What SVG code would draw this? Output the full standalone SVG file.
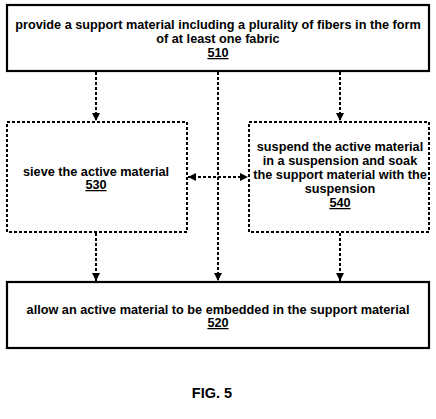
<svg xmlns="http://www.w3.org/2000/svg" width="436" height="419" viewBox="0 0 436 419">
<style>
.box{fill:#fff;stroke:#000;stroke-width:2.2}
.dbox{fill:#fff;stroke:#000;stroke-width:2;stroke-dasharray:3,2}
.t{font-family:"Liberation Sans",Arial,sans-serif;font-weight:bold;font-size:12.7px;text-anchor:middle;fill:#000}
.u{text-decoration:underline}
.c{stroke:#000;stroke-width:2;stroke-dasharray:3,2;fill:none}
</style>
<defs>
<marker id="ah" viewBox="0 0 8 8" refX="8" refY="4" markerWidth="8" markerHeight="8" markerUnits="userSpaceOnUse" orient="auto-start-reverse">
<path d="M0,0 L8,4 L0,8 Z" fill="#000"/>
</marker>
</defs>
<rect width="436" height="419" fill="#fff"/>
<g id="connectors">
<line class="c" x1="96" y1="72" x2="96" y2="121" marker-end="url(#ah)"/>
<line class="c" x1="340" y1="72" x2="340" y2="121" marker-end="url(#ah)"/>
<line class="c" x1="218" y1="72" x2="218" y2="281" marker-end="url(#ah)"/>
<line class="c" x1="96" y1="233" x2="96" y2="281" marker-end="url(#ah)"/>
<line class="c" x1="340" y1="233" x2="340" y2="281" marker-end="url(#ah)"/>
<line class="c" x1="188" y1="177" x2="248" y2="177" marker-start="url(#ah)" marker-end="url(#ah)"/>
</g>
<g id="n510">
<rect class="box" x="7" y="5" width="422" height="66"/>
<text class="t" x="218" y="29">provide a support material including a plurality of fibers in the form</text>
<text class="t" x="218" y="43">of at least one fabric</text>
<text class="t u" x="218" y="57">510</text>
</g>
<g id="n530">
<rect class="dbox" x="7" y="122" width="180" height="110"/>
<text class="t" x="96" y="176">sieve the active material</text>
<text class="t u" x="96" y="189">530</text>
</g>
<g id="n540">
<rect class="dbox" x="249" y="122" width="180" height="110"/>
<text class="t" x="340" y="151">suspend the active material</text>
<text class="t" x="340" y="165">in a suspension and soak</text>
<text class="t" x="340" y="179">the support material with the</text>
<text class="t" x="340" y="193">suspension</text>
<text class="t u" x="340" y="207">540</text>
</g>
<g id="n520">
<rect class="box" x="7" y="282" width="422" height="66"/>
<text class="t" x="218" y="314">allow an active material to be embedded in the support material</text>
<text class="t u" x="218" y="327">520</text>
</g>
<text class="t" x="212" y="398" style="font-size:14.5px">FIG. 5</text>
</svg>
